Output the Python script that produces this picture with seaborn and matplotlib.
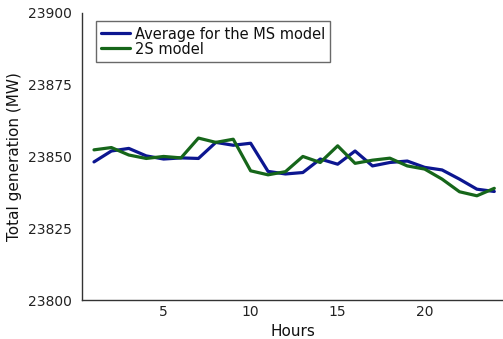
import matplotlib
matplotlib.use("Agg")
import matplotlib.pyplot as plt
import seaborn as sns
import pandas as pd

hours = list(range(1, 25))
ms_avg = [23848.1, 23851.9, 23852.8, 23850.2, 23849.1, 23849.5, 23849.3, 23854.9,
          23853.9, 23854.6, 23844.8, 23843.9, 23844.4, 23849.1, 23847.3, 23851.9,
          23846.7, 23847.9, 23848.4, 23846.2, 23845.3, 23842.1, 23838.6, 23837.8]
two_stage = [23852.3, 23853.1, 23850.5, 23849.3, 23850.0, 23849.5, 23856.4, 23854.9,
             23856.0, 23845.0, 23843.6, 23844.7, 23850.0, 23847.9, 23853.7, 23847.6,
             23848.7, 23849.4, 23846.7, 23845.6, 23842.1, 23837.7, 23836.3, 23838.9]
series_names = ["Average for the MS model", "2S model"]
colors = ["#0c1690", "#16661a"]

df = pd.DataFrame({
    "Hours": hours * 2,
    "MW": ms_avg + two_stage,
    "model": [series_names[0]] * 24 + [series_names[1]] * 24,
})

sns.set_style("white")
plt.rcParams["font.family"] = ["DejaVu Sans"]

fig = plt.figure(figsize=(5.03, 3.39), dpi=100)
ax = fig.add_axes([0.163, 0.115, 0.837, 0.847])

sns.lineplot(data=df, x="Hours", y="MW", hue="model", palette=colors,
             linewidth=2.3, ax=ax)

ax.set_xlim(0.31, 24.5)
ax.set_ylim(23800, 23900)
ax.set_xticks([5, 10, 15, 20])
ax.set_yticks([23800, 23825, 23850, 23875, 23900])
ax.set_xlabel("Hours", fontsize=11, color="#111111")
ax.set_ylabel("Total generation (MW)", fontsize=11, color="#111111")
ax.tick_params(axis="x", direction="in", length=4, labelsize=10, colors="#222222")
ax.tick_params(axis="y", direction="out", length=4, labelsize=10, colors="#222222")
for side in ["top", "right"]:
    ax.spines[side].set_visible(False)
for side in ["left", "bottom"]:
    ax.spines[side].set_color("#333333")
    ax.spines[side].set_linewidth(1.0)

leg = ax.legend(loc="upper left", bbox_to_anchor=(0.033, 0.97), fontsize=10.5,
                frameon=True, fancybox=False, handlelength=2.0,
                handletextpad=0.3, labelspacing=0.0, borderpad=0.35,
                borderaxespad=0)
leg.get_frame().set_edgecolor("#444444")
leg.get_frame().set_linewidth(1.0)
for t in leg.get_texts():
    t.set_color("#111111")

fig.savefig("out.png", dpi=100)
